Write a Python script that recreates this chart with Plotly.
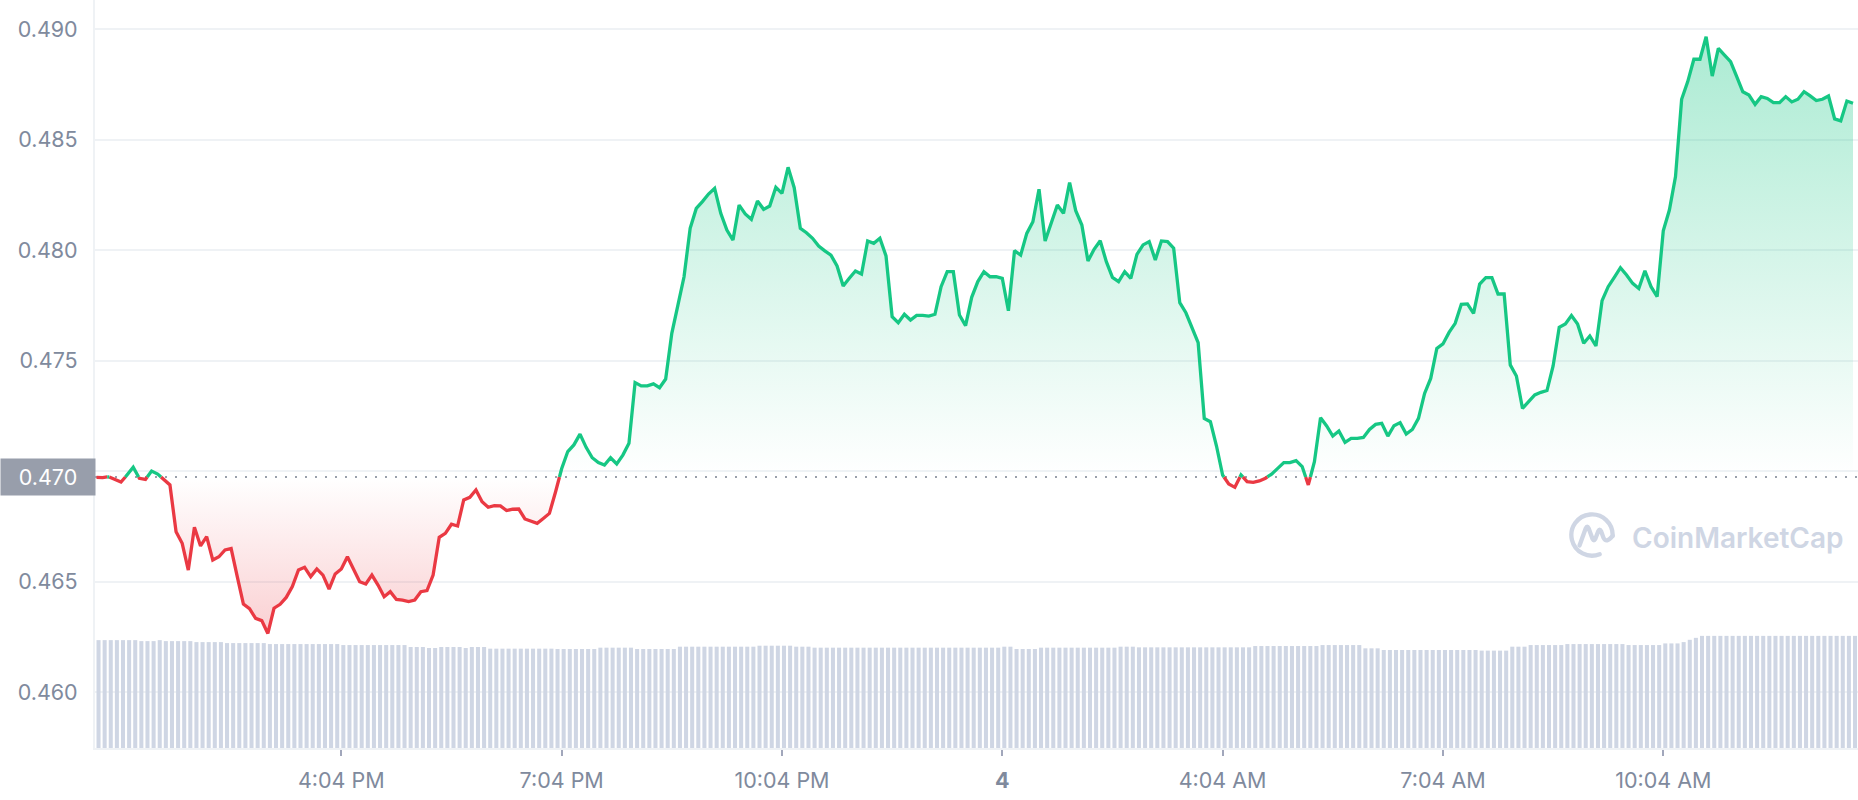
import base64
import numpy as np
import pandas as pd
import plotly.graph_objects as go

# ---------------- data ----------------
START_TIME = "2023-03-03 12:44"
STEP = "5min"

price = [
    0.46971, 0.46970, 0.46974, 0.46962, 0.46950, 0.46982, 0.47017, 0.46967,
    0.46962, 0.47000, 0.46986, 0.46962, 0.46937, 0.46725, 0.46673, 0.46552,
    0.46745, 0.46661, 0.46703, 0.46597, 0.46612, 0.46643, 0.46649, 0.46522,
    0.46398, 0.46377, 0.46333, 0.46323, 0.46265, 0.46379, 0.46397, 0.46428,
    0.46477, 0.46552, 0.46564, 0.46522, 0.46557, 0.46529, 0.46466, 0.46534,
    0.46557, 0.46612, 0.46552, 0.46499, 0.46489, 0.46529, 0.46484, 0.46431,
    0.46454, 0.46419, 0.46416, 0.46409, 0.46416, 0.46454, 0.46459, 0.46529,
    0.46700, 0.46718, 0.46759, 0.46751, 0.46869, 0.46881, 0.46914, 0.46861,
    0.46836, 0.46843, 0.46842, 0.46821, 0.46827, 0.46828, 0.46783, 0.46774,
    0.46763, 0.46785, 0.46808, 0.46905, 0.47010, 0.47088, 0.47118, 0.47167,
    0.47107, 0.47060, 0.47038, 0.47027, 0.47060, 0.47032, 0.47072, 0.47125,
    0.47400, 0.47385, 0.47385, 0.47394, 0.47377, 0.47416, 0.47623, 0.47751,
    0.47879, 0.48098, 0.48188, 0.48219, 0.48253, 0.48279, 0.48166, 0.48090,
    0.48045, 0.48203, 0.48163, 0.48139, 0.48222, 0.48184, 0.48199, 0.48284,
    0.48256, 0.48374, 0.48282, 0.48098, 0.48078, 0.48053, 0.48018, 0.47996,
    0.47977, 0.47928, 0.47837, 0.47872, 0.47905, 0.47891, 0.48041, 0.48030,
    0.48053, 0.47973, 0.47698, 0.47671, 0.47709, 0.47683, 0.47704, 0.47704,
    0.47701, 0.47709, 0.47834, 0.47902, 0.47902, 0.47706, 0.47658, 0.47786,
    0.47857, 0.47902, 0.47879, 0.47879, 0.47872, 0.47725, 0.47997, 0.47977,
    0.48075, 0.48128, 0.48275, 0.48041, 0.48128, 0.48204, 0.48166, 0.48305,
    0.48178, 0.48113, 0.47950, 0.48003, 0.48042, 0.47947, 0.47876, 0.47857,
    0.47902, 0.47872, 0.47980, 0.48023, 0.48038, 0.47955, 0.48041, 0.48038,
    0.48008, 0.47762, 0.47716, 0.47653, 0.47581, 0.47238, 0.47223, 0.47113,
    0.46982, 0.46941, 0.46926, 0.46982, 0.46952, 0.46949, 0.46955, 0.46967,
    0.46986, 0.47012, 0.47038, 0.47038, 0.47047, 0.47020, 0.46937, 0.47042,
    0.47241, 0.47204, 0.47158, 0.47181, 0.47130, 0.47148, 0.47148, 0.47152,
    0.47188, 0.47211, 0.47216, 0.47158, 0.47205, 0.47219, 0.47167, 0.47188,
    0.47238, 0.47351, 0.47419, 0.47555, 0.47575, 0.47627, 0.47668, 0.47754,
    0.47756, 0.47713, 0.47846, 0.47875, 0.47875, 0.47801, 0.47801, 0.47480,
    0.47430, 0.47283, 0.47314, 0.47344, 0.47356, 0.47364, 0.47475, 0.47650,
    0.47665, 0.47703, 0.47665, 0.47578, 0.47611, 0.47566, 0.47771, 0.47834,
    0.47876, 0.47920, 0.47887, 0.47849, 0.47826, 0.47906, 0.47834, 0.47789,
    0.48087, 0.48181, 0.48332, 0.48682, 0.48762, 0.48863, 0.48863, 0.48965,
    0.48787, 0.48912, 0.48882, 0.48852, 0.48784, 0.48716, 0.48701, 0.48659,
    0.48694, 0.48686, 0.48667, 0.48667, 0.48694, 0.48670, 0.48682, 0.48716,
    0.48697, 0.48676, 0.48682, 0.48697, 0.48593, 0.48584, 0.48674, 0.48664,
]

# trading volume (millions USD)
volume = [
    329, 329, 329, 329, 329, 329, 329, 326, 326, 326, 329, 326, 326, 326, 326, 326,
    323, 323, 323, 323, 323, 320, 320, 320, 320, 320, 320, 320, 317, 317, 317, 317,
    317, 317, 317, 317, 317, 317, 317, 317, 314, 314, 314, 314, 314, 314, 314, 314,
    314, 314, 314, 308, 308, 308, 305, 305, 308, 308, 308, 308, 305, 308, 308, 308,
    303, 303, 303, 303, 303, 303, 303, 303, 303, 303, 303, 302, 302, 302, 302, 302,
    302, 302, 306, 306, 306, 306, 306, 306, 302, 302, 302, 302, 302, 302, 302, 309,
    309, 309, 309, 309, 309, 309, 309, 309, 309, 309, 309, 309, 312, 312, 312, 312,
    312, 312, 309, 309, 309, 306, 306, 306, 306, 306, 306, 306, 306, 306, 306, 306,
    306, 306, 306, 306, 306, 306, 306, 306, 306, 306, 306, 306, 306, 306, 306, 306,
    306, 306, 306, 306, 309, 309, 302, 302, 302, 302, 306, 306, 306, 306, 306, 306,
    306, 306, 306, 306, 306, 306, 306, 309, 309, 309, 307, 307, 307, 307, 307, 307,
    307, 307, 307, 307, 307, 307, 307, 307, 307, 307, 307, 307, 307, 311, 311, 311,
    311, 311, 311, 311, 311, 311, 311, 311, 314, 314, 314, 314, 314, 314, 314, 304,
    304, 304, 299, 299, 299, 299, 299, 299, 299, 299, 299, 299, 299, 299, 299, 299,
    299, 299, 297, 297, 297, 297, 297, 309, 309, 309, 314, 314, 314, 314, 314, 314,
    317, 317, 317, 317, 317, 317, 317, 317, 317, 317, 314, 314, 314, 314, 314, 314,
    319, 319, 319, 323, 330, 336, 342, 342, 342, 342, 342, 342, 342, 342, 342, 342,
    342, 342, 342, 342, 342, 342, 342, 342, 342, 342, 342, 342, 342, 342, 342, 342,
]

open_price = 0.46973

tick_times = ["2023-03-03 16:04", "2023-03-03 19:04", "2023-03-03 22:04",
              "2023-03-04 01:04", "2023-03-04 04:04", "2023-03-04 07:04",
              "2023-03-04 10:04"]
tick_labels = ["4:04 PM", "7:04 PM", "10:04 PM", "<b>4</b>", "4:04 AM",
               "7:04 AM", "10:04 AM"]
y_tick_values = [0.460, 0.465, 0.470, 0.475, 0.480, 0.485, 0.490]
y_tick_labels = ["0.460", "0.465", "", "0.475", "0.480", "0.485", "0.490"]

# ---------------- style ----------------
GREEN = "#16c784"
RED = "#ea3943"
GRID = "#eff2f5"
LABEL = "#808a9d"
BAR = "#cfd6e4"
FONT = "Inter"

W, H = 1858, 800
ML, MR, MT, MB = 95, 0, 0, 52
PW, PH = W - ML - MR, H - MT - MB


def px_x(px):
    return (px - ML) / PW


def px_y(py):
    return (H - MB - py) / PH


times = pd.date_range(START_TIME, periods=len(price), freq=STEP)
t_sec = times.asi8 / 1e9
p = np.asarray(price, dtype=float)

# split the line where it crosses the opening price
xs, ys = [], []
for i in range(len(p)):
    xs.append(t_sec[i])
    ys.append(p[i])
    if i + 1 < len(p):
        a = p[i] - open_price
        b = p[i + 1] - open_price
        if a * b < 0:
            f = a / (a - b)
            xs.append(t_sec[i] + f * (t_sec[i + 1] - t_sec[i]))
            ys.append(open_price)
xs_dt = pd.to_datetime(np.array(xs), unit="s")
ys = np.array(ys)

green_line = [float(y) if y >= open_price else None for y in ys]
red_line = [float(y) if y <= open_price else None for y in ys]
above = [float(max(y, open_price)) for y in ys]
below = [float(min(y, open_price)) for y in ys]
base = [open_price] * len(ys)

fig = go.Figure()

# volume bars on the hidden main axis
step_ms = 5 * 60 * 1000
fig.add_trace(go.Bar(
    x=times, y=volume, marker=dict(color=BAR, line=dict(width=0)),
    width=0.66 * step_ms, offset=0, hoverinfo="skip",
))

# green fill
fig.add_trace(go.Scatter(x=xs_dt, y=base, yaxis="y2", mode="lines",
                         line=dict(width=0, color=GREEN), hoverinfo="skip"))
fig.add_trace(go.Scatter(
    x=xs_dt, y=above, yaxis="y2", mode="lines", line=dict(width=0, color=GREEN),
    fill="tonexty",
    fillgradient=dict(type="vertical",
                      colorscale=[[0, "rgba(22,199,132,0.0)"],
                                  [1, "rgba(22,199,132,0.36)"]],
                      start=open_price, stop=float(p.max())),
    hoverinfo="skip"))
# red fill
fig.add_trace(go.Scatter(x=xs_dt, y=base, yaxis="y2", mode="lines",
                         line=dict(width=0, color=RED), hoverinfo="skip"))
fig.add_trace(go.Scatter(
    x=xs_dt, y=below, yaxis="y2", mode="lines", line=dict(width=0, color=RED),
    fill="tonexty",
    fillgradient=dict(type="vertical",
                      colorscale=[[0, "rgba(234,57,67,0.24)"],
                                  [1, "rgba(234,57,67,0.0)"]],
                      start=float(p.min()), stop=open_price),
    hoverinfo="skip"))

# price line
fig.add_trace(go.Scatter(x=xs_dt, y=red_line, yaxis="y2", mode="lines",
                         line=dict(color=RED, width=3.3), hoverinfo="skip"))
fig.add_trace(go.Scatter(x=xs_dt, y=green_line, yaxis="y2", mode="lines",
                         line=dict(color=GREEN, width=3.3), hoverinfo="skip"))

# ranges
sec_per_px = 300 / 6.12
x0 = times[0] - pd.Timedelta(seconds=1.5 * sec_per_px)
x1 = times[-1] + pd.Timedelta(seconds=5 * sec_per_px)
y_top = 0.491312
y_bot = 0.457466

fig.update_layout(
    width=W, height=H,
    margin=dict(l=ML, r=MR, t=MT, b=MB, pad=0),
    paper_bgcolor="white", plot_bgcolor="white",
    showlegend=False, hovermode=False,
    font=dict(family=FONT, size=21.5, color=LABEL),
    xaxis=dict(type="date", range=[x0, x1], tickmode="array",
               tickvals=tick_times, ticktext=tick_labels,
               ticks="outside", ticklen=6, tickwidth=1.5, tickcolor="#a1a7bb",
               showgrid=False, zeroline=False, showline=True,
               linecolor=GRID, linewidth=2, ticklabelstandoff=6,
               tickfont=dict(family=FONT, size=21.5, color=LABEL)),
    yaxis=dict(range=[0, 748 * 3.05], visible=False, showgrid=False,
               zeroline=False),
    yaxis2=dict(overlaying="y", side="left", range=[y_bot, y_top],
                tickmode="array", tickvals=y_tick_values,
                ticktext=y_tick_labels, showgrid=True, gridcolor=GRID,
                gridwidth=1.5, zeroline=False, showline=True,
                linecolor=GRID, linewidth=2, ticks="",
                ticklabelstandoff=11,
                tickfont=dict(family=FONT, size=21.5, color=LABEL)),
)

# dotted opening price line
fig.add_shape(type="line", xref="paper", x0=0, x1=1, yref="y2",
              y0=open_price, y1=open_price, layer="between",
              line=dict(color="#9aa0ab", width=2, dash="2px,8px"))

# opening price label
fig.add_annotation(
    xref="paper", x=0, xanchor="right", xshift=1,
    yref="y2", y=open_price, yanchor="middle",
    text=f"{round(open_price, 3):.3f}", showarrow=False,
    width=90, height=32, borderpad=2, bgcolor="#989eab",
    font=dict(family=FONT, size=21.5, color="white"), align="center",
)

# watermark
logo_svg = (
    '<svg xmlns="http://www.w3.org/2000/svg" viewBox="0 0 100 100">'
    '<g fill="none" stroke="#cfd6e4" stroke-width="9" stroke-linecap="round" '
    'stroke-linejoin="round">'
    '<path d="M 66 90 A 43 43 0 1 1 93 52"/>'
    '<path d="M 24 72 L 37 36 Q 40 29 43 36 L 51 58 Q 54 64 57 58 L 63 42 '
    'Q 66 36 69 42 L 74 56 Q 80 68 93 52"/>'
    '</g></svg>'
)
logo_src = "data:image/svg+xml;base64," + base64.b64encode(logo_svg.encode()).decode()
fig.add_layout_image(
    source=logo_src, xref="paper", yref="paper",
    x=px_x(1592), y=px_y(535), sizex=48 / PW, sizey=48 / PH,
    xanchor="center", yanchor="middle", sizing="contain", layer="above",
)
fig.add_annotation(
    xref="paper", yref="paper", x=px_x(1630), y=px_y(538),
    xanchor="left", yanchor="middle", showarrow=False,
    text="CoinMarketCap",
    font=dict(family=FONT, size=28, color="#cfd6e4", weight=600),
)

fig.write_html(
    "out.html",
    config={"displayModeBar": False},
    post_script="document.body.style.margin='0px';document.body.style.overflow='hidden';",
)
